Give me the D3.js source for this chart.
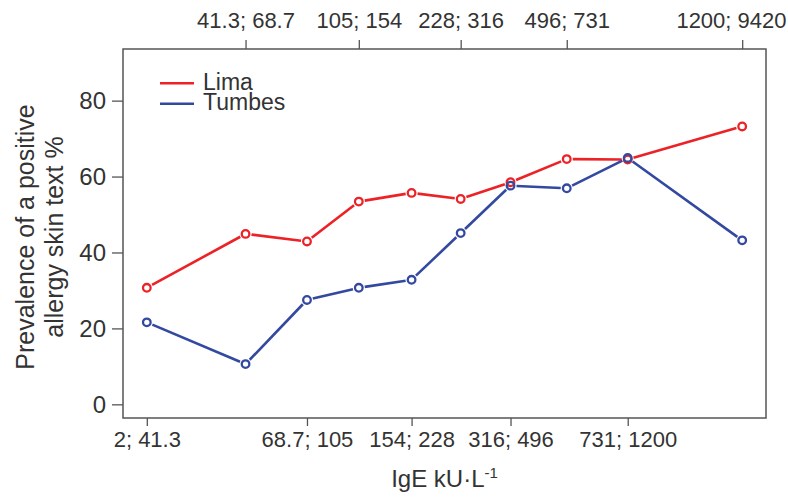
<!DOCTYPE html>
<html>
<head>
<meta charset="utf-8">
<script src="https://cdn.jsdelivr.net/npm/d3@7"></script>
<style>
  body { margin: 0; background: #fff; }
  svg { font-family: "Liberation Sans", Arial, sans-serif; }
  .axis text { fill: #333; }
  .axis line { stroke: #555; stroke-width: 1.3; }
</style>
</head>
<body>
<div id="chart"></div>
<script>
// IgE deciles (kU/L), each point sits at the decile's median
var deciles = ["2; 41.3", "41.3; 68.7", "68.7; 105", "105; 154", "154; 228",
  "228; 316", "316; 496", "496; 731", "731; 1200", "1200; 9420"];
var medianIgE = [25.8, 54, 85.5, 126, 187, 270, 392, 597, 942, 2218];

// prevalence of a positive skin test, %
var lima = [30.7, 44.9, 42.9, 53.4, 55.7, 54.1, 58.5, 64.6, 64.5, 73.2];
var tumbes = [21.6, 10.6, 27.5, 30.7, 32.8, 45.1, 57.6, 56.9, 64.9, 43.2];

var yTicks = [0, 20, 40, 60, 80];

var svgWidth = 788;
var svgHeight = 499;

var margin = { top: 49, right: 22, bottom: 81, left: 123 };
var width = svgWidth - margin.left - margin.right;
var height = svgHeight - margin.top - margin.bottom;

var svg = d3.select("#chart")
  .append("svg")
  .attr("width", svgWidth)
  .attr("height", svgHeight);

svg.append("rect")
  .attr("width", svgWidth)
  .attr("height", svgHeight)
  .attr("fill", "#fff");

var chartGroup = svg.append("g")
  .attr("transform", `translate(${margin.left}, ${margin.top})`);

// R style 4% padding on log x and on ylim 0..90
var lx = d3.extent(medianIgE, d => Math.log10(d));
var pad = (lx[1] - lx[0]) * 0.04;
var xScale = d3.scaleLog()
  .domain([Math.pow(10, lx[0] - pad), Math.pow(10, lx[1] + pad)])
  .range([0, width]);

var yScale = d3.scaleLinear()
  .domain([0 - 90 * 0.04, 90 + 90 * 0.04])
  .range([height, 0]);

// bottom axis: odd deciles, top axis: even deciles
var botIdx = [0, 2, 4, 6, 8];
var topIdx = [1, 3, 5, 7, 9];

var bottomAxis = d3.axisBottom(xScale)
  .tickValues(botIdx.map(i => medianIgE[i]))
  .tickFormat((d, i) => deciles[botIdx[i]])
  .tickSize(8)
  .tickPadding(5);

var topAxis = d3.axisTop(xScale)
  .tickValues(topIdx.map(i => medianIgE[i]))
  .tickFormat((d, i) => deciles[topIdx[i]])
  .tickSize(9)
  .tickPadding(12);

var leftAxis = d3.axisLeft(yScale)
  .tickValues(yTicks)
  .tickSize(11)
  .tickPadding(6);

var xAxisB = chartGroup.append("g")
  .attr("class", "axis")
  .attr("transform", `translate(0, ${height})`)
  .call(bottomAxis);

var xAxisT = chartGroup.append("g")
  .attr("class", "axis")
  .call(topAxis);

var yAxis = chartGroup.append("g")
  .attr("class", "axis")
  .call(leftAxis);

[xAxisB, xAxisT, yAxis].forEach(function(a) {
  a.select(".domain").remove();
  a.selectAll("text").attr("font-family", null);
});
xAxisB.selectAll("text").attr("font-size", "22px");
xAxisT.selectAll("text").attr("font-size", "22px");
yAxis.selectAll("text").attr("font-size", "24px");

// last top label is pushed in so it stays on the page
xAxisT.selectAll(".tick:last-of-type text")
  .attr("text-anchor", "end")
  .attr("x", svgWidth - 2 - margin.left - xScale(medianIgE[9]));

// frame
chartGroup.append("rect")
  .attr("width", width)
  .attr("height", height)
  .attr("fill", "none")
  .attr("stroke", "#555")
  .attr("stroke-width", 1.5);

// series, drawn like R type="b": segments stop short of the points
var series = [
  { name: "Lima", values: lima, color: "#ec2227" },
  { name: "Tumbes", values: tumbes, color: "#3349a0" }
];

var gap = 6;

series.forEach(function(s) {
  var pts = s.values.map((v, i) => [xScale(medianIgE[i]), yScale(v)]);
  var segs = d3.pairs(pts);
  var g = chartGroup.append("g");

  g.selectAll("line")
    .data(segs)
    .enter()
    .append("line")
    .each(function(p) {
      var dx = p[1][0] - p[0][0];
      var dy = p[1][1] - p[0][1];
      var len = Math.sqrt(dx * dx + dy * dy);
      var ux = dx / len, uy = dy / len;
      d3.select(this)
        .attr("x1", p[0][0] + ux * gap)
        .attr("y1", p[0][1] + uy * gap)
        .attr("x2", p[1][0] - ux * gap)
        .attr("y2", p[1][1] - uy * gap);
    })
    .attr("stroke", s.color)
    .attr("stroke-width", 2.6);

  g.selectAll("circle")
    .data(s.values)
    .enter()
    .append("circle")
    .attr("cx", (d, i) => xScale(medianIgE[i]))
    .attr("cy", d => yScale(d))
    .attr("r", 3.8)
    .attr("fill", "none")
    .attr("stroke", s.color)
    .attr("stroke-width", 2.3);
});

// legend
var legend = chartGroup.append("g")
  .attr("transform", "translate(37, 34.3)");

series.forEach(function(s, i) {
  legend.append("line")
    .attr("x1", 0)
    .attr("x2", 34)
    .attr("y1", i * 20.5)
    .attr("y2", i * 20.5)
    .attr("stroke", s.color)
    .attr("stroke-width", 2.6);
  legend.append("text")
    .attr("x", 43)
    .attr("y", i * 20.5 + 6.3)
    .attr("font-size", "23px")
    .attr("fill", "#333")
    .text(s.name);
});

// axis titles
var yTitle = svg.append("text")
  .attr("transform", "translate(33.5, 237) rotate(-90)")
  .attr("text-anchor", "middle")
  .attr("font-size", "25px")
  .attr("fill", "#333");
yTitle.append("tspan").attr("x", 0).attr("y", 0).text("Prevalence of a positive");
yTitle.append("tspan").attr("x", 0).attr("y", 29.5).text("allergy skin text %");

var xTitle = svg.append("text")
  .attr("x", margin.left + width / 2)
  .attr("y", 487)
  .attr("text-anchor", "middle")
  .attr("font-size", "24px")
  .attr("fill", "#333");
xTitle.append("tspan").text("IgE kU\u00b7L");
xTitle.append("tspan").attr("dy", -9).attr("font-size", "15px").text("-1");
</script>
</body>
</html>
